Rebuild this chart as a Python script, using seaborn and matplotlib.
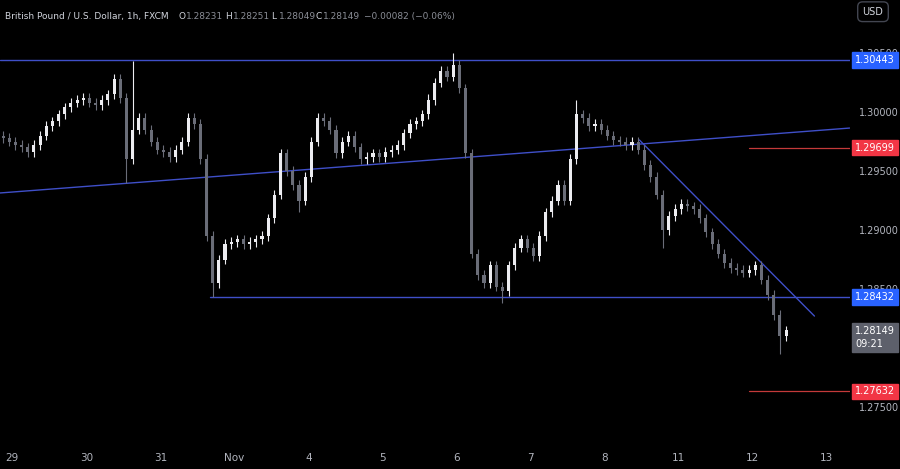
import matplotlib
matplotlib.use('Agg')
import matplotlib.pyplot as plt
import seaborn as sns
import numpy as np
import pandas as pd

# ============================================================
# DATA (2-hour closes)
# ============================================================
closes = [
    1.2978, 1.2975, 1.2972, 1.2970, 1.2966, 1.2972, 1.2980, 1.2988, 1.2992, 1.2998,
    1.3004, 1.3008, 1.3010, 1.3012, 1.3008, 1.3006, 1.3010, 1.3015, 1.3028, 1.3012,
    1.2960, 1.2985, 1.2995, 1.2985, 1.2975, 1.2968, 1.2966, 1.2962, 1.2968, 1.2975,
    1.2995, 1.2990, 1.2960, 1.2895, 1.2855, 1.2875, 1.2888, 1.2890, 1.2892, 1.2888,
    1.2890, 1.2892, 1.2895, 1.2910, 1.2930, 1.2965, 1.2950, 1.2938, 1.2925, 1.2945,
    1.2975, 1.2995, 1.2992, 1.2985, 1.2965, 1.2975, 1.2980, 1.2970, 1.2960, 1.2962,
    1.2965, 1.2962, 1.2966, 1.2968, 1.2972, 1.2982, 1.2990, 1.2992, 1.2998, 1.3010,
    1.3025, 1.3035, 1.3030, 1.3040, 1.3020, 1.2965, 1.2880, 1.2862, 1.2855, 1.2870,
    1.2852, 1.2848, 1.2870, 1.2885, 1.2892, 1.2885, 1.2878, 1.2895, 1.2915, 1.2925,
    1.2938, 1.2925, 1.2960, 1.2998, 1.2995, 1.2988, 1.2990, 1.2985, 1.2980, 1.2976,
    1.2975, 1.2972, 1.2975, 1.2968, 1.2955, 1.2945, 1.2930, 1.2900, 1.2912, 1.2918,
    1.2922, 1.2920, 1.2918, 1.2910, 1.2898, 1.2888, 1.2880, 1.2872, 1.2868, 1.2866,
    1.2864, 1.2866, 1.2870, 1.2858, 1.2845, 1.2828, 1.2810, 1.28149,
]
first_open = 1.2980
wick_highs = {21: 1.3043, 73: 1.3050, 93: 1.3010, 69: 1.3015}
wick_lows = {20: 1.2940, 34: 1.2843, 81: 1.2838, 107: 1.2885, 126: 1.2795, 48: 1.2915}

day_labels = ['29', '30', '31', 'Nov', '4', '5', '6', '7', '8', '11', '12', '13']
resistance = 1.30443
support = 1.28432
red_levels = [1.29699, 1.27632]
last_price = 1.28149
y_ticks = [1.275, 1.280, 1.285, 1.290, 1.295, 1.300, 1.305]

# ============================================================
# BUILD OHLC
# ============================================================
opens = [first_open] + closes[:-1]
df = pd.DataFrame({'open': opens, 'close': closes})
df['idx'] = np.arange(len(df))
df['high'] = df[['open', 'close']].max(axis=1) + 0.0004
df['low'] = df[['open', 'close']].min(axis=1) - 0.0004
for i, v in wick_highs.items():
    df.loc[i, 'high'] = v
for i, v in wick_lows.items():
    df.loc[i, 'low'] = v
df['up'] = df['close'] >= df['open']

# ============================================================
# PLOT
# ============================================================
sns.set_style('dark', {'axes.facecolor': '#000000', 'figure.facecolor': '#000000'})
fig = plt.figure(figsize=(9, 4.69), dpi=100)
ax = fig.add_axes([0, 0.051, 0.944, 0.949])
ax.set_facecolor('#000000')

UP, DOWN = '#ececf0', '#6a6d78'
colors = np.where(df['up'].to_numpy(), UP, DOWN)
ax.vlines(df['idx'], df['low'], df['high'], colors=colors, linewidth=0.8, zorder=3)
body_bottom = df[['open', 'close']].min(axis=1)
body_h = (df['close'] - df['open']).abs().clip(lower=0.00008)
ax.bar(df['idx'], body_h, bottom=body_bottom, width=0.5, color=colors,
       linewidth=0, edgecolor='none', zorder=4)

x_end = 137.3
ax.set_xlim(-0.5, x_end)
ax.set_ylim(1.27178, 1.30949)

line_c = '#3f4fc8'
ax.plot([-0.5, x_end], [resistance, resistance], color=line_c, lw=1)
ax.plot([33.5, x_end], [support, support], color=line_c, lw=1)
ax.plot([-0.5, x_end], [1.29314, 1.29864], color=line_c, lw=1)
ax.plot([103.2, 131.6], [1.29763, 1.28271], color=line_c, lw=1)
for lvl in red_levels:
    ax.plot([121, x_end], [lvl, lvl], color='#c43a3a', lw=0.9)

# x axis
day_pos = [1.5 + 12 * k for k in range(len(day_labels))]
ax.set_xticks(day_pos)
ax.set_xticklabels(day_labels, color='#b2b5be', fontsize=7.5)
ax.tick_params(axis='x', length=0, pad=6)

# y axis on right
ax.yaxis.tick_right()
ax.set_yticks(y_ticks)
ax.set_yticklabels([f'{t:.5f}' for t in y_ticks], color='#b2b5be', fontsize=7)
ax.tick_params(axis='y', length=0, pad=7)
ax.grid(False)
for s in ax.spines.values():
    s.set_visible(False)

def price_tag(y, text, fc):
    ax.annotate(text, xy=(1.0, y), xycoords=('axes fraction', 'data'),
                xytext=(4, 0), textcoords='offset points', va='center', ha='left',
                fontsize=7, color='white', zorder=10, annotation_clip=False,
                bbox=dict(boxstyle='square,pad=0.3', fc=fc, ec=fc))

price_tag(resistance, '1.30443', '#2962ff')
price_tag(support, '1.28432', '#2962ff')
price_tag(red_levels[0], '1.29699', '#f23645')
price_tag(red_levels[1], '1.27632', '#f23645')
ax.annotate(f'{last_price:.5f}\n09:21', xy=(1.0, last_price - 0.0006), xycoords=('axes fraction', 'data'),
            xytext=(4, 0), textcoords='offset points', va='center', ha='left',
            fontsize=7, color='white', linespacing=1.3, zorder=10, annotation_clip=False,
            bbox=dict(boxstyle='square,pad=0.3', fc='#5d606b', ec='#5d606b'))

# header
fs = 6.5
fig.text(0.006, 0.965, 'British Pound / U.S. Dollar, 1h, FXCM', color='#d1d4dc', fontsize=fs, va='center')
hdr = [('O', '1.28231', 0.198), ('H', '1.28251', 0.250), ('L', '1.28049', 0.301), ('C', '1.28149', 0.350)]
for lab, val, xx in hdr:
    fig.text(xx, 0.965, lab, color='#d1d4dc', fontsize=fs, va='center')
    fig.text(xx + 0.009, 0.965, val, color='#8a8d96', fontsize=fs, va='center')
fig.text(0.404, 0.965, '\u22120.00082 (\u22120.06%)', color='#8a8d96', fontsize=fs, va='center')
fig.text(0.97, 0.975, 'USD', color='#d1d4dc', fontsize=7, va='center', ha='center',
         bbox=dict(boxstyle='round,pad=0.5', fc='#000000', ec='#434651'))

fig.savefig('out.png', dpi=100, facecolor='#000000')
